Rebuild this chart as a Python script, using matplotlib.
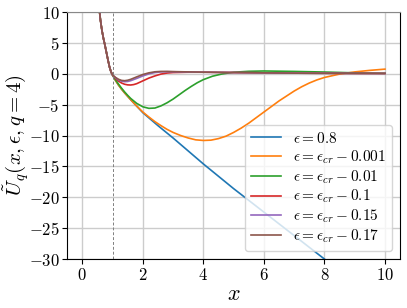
import matplotlib
matplotlib.use("Agg")
import matplotlib.pyplot as plt

plt.rcParams['mathtext.fontset'] = 'cm'
plt.rcParams['font.family'] = 'serif'
plt.rcParams['font.serif'] = ['cmr10', 'DejaVu Serif']
plt.rcParams['axes.formatter.use_mathtext'] = True

# shared steep part (x < 1)
x_common = [0.5, 0.55, 0.6, 0.65, 0.7, 0.75, 0.8, 0.85, 0.9, 0.95, 1.0]
y_common = [14.0, 11.0, 8.7, 7.0, 5.7, 4.6, 3.4, 2.2, 1.1, 0.3, -0.2]

x_blue = [1.1, 1.2, 1.3, 1.4, 1.5, 1.6, 1.8, 2.0, 2.5, 3.0, 3.5, 4.0, 5.0, 6.0, 7.0, 8.0, 9.0, 10.0]
y_blue = [-1.1, -1.85, -2.5, -3.1, -3.65, -4.2, -5.25, -6.3, -8.4, -10.4, -12.5, -14.6, -18.6, -22.4, -26.2, -30.0, -33.8, -37.6]

x_orange = [1.1, 1.2, 1.3, 1.4, 1.5, 1.6, 1.8, 2.0, 2.2, 2.4, 2.6, 2.8, 3.0, 3.25, 3.5, 3.75, 4.0, 4.25,
            4.5, 4.75, 5.0, 5.25, 5.5, 5.75, 6.0, 6.25, 6.5, 6.75, 7.0, 7.25, 7.5, 7.75, 8.0, 8.5, 9.0, 9.5, 10.0]
y_orange = [-1.1, -1.85, -2.5, -3.1, -3.65, -4.2, -5.25, -6.2, -7.0, -7.75, -8.4, -9.0, -9.5, -10.0, -10.4, -10.7, -10.8, -10.75,
            -10.5, -10.1, -9.5, -8.8, -8.0, -7.1, -6.2, -5.3, -4.4, -3.6, -2.8, -2.1, -1.5, -1.0, -0.6, -0.05, 0.3, 0.55, 0.75]

x_green = [1.1, 1.2, 1.3, 1.4, 1.5, 1.6, 1.8, 2.0, 2.2, 2.4, 2.6, 2.8, 3.0, 3.2, 3.4, 3.6, 3.8, 4.0, 4.3, 4.6,
           5.0, 5.5, 6.0, 7.0, 8.0, 9.0, 10.0]
y_green = [-1.0, -1.7, -2.35, -2.95, -3.5, -4.0, -4.8, -5.35, -5.6, -5.55, -5.2, -4.7, -4.1, -3.4, -2.7, -2.05, -1.45, -0.95, -0.4, -0.05,
           0.25, 0.4, 0.45, 0.38, 0.28, 0.15, 0.08]

x_red = [1.1, 1.2, 1.3, 1.4, 1.5, 1.6, 1.7, 1.8, 2.0, 2.2, 2.4, 2.6, 2.8, 3.0, 3.5, 4.0, 5.0, 6.0, 7.0, 8.0, 9.0, 10.0]
y_red = [-0.75, -1.2, -1.5, -1.7, -1.8, -1.82, -1.75, -1.6, -1.15, -0.7, -0.35, -0.05, 0.12, 0.2, 0.25, 0.25, 0.2, 0.15, 0.1, 0.08, 0.06, 0.05]

x_purple = [1.1, 1.2, 1.3, 1.4, 1.5, 1.6, 1.8, 2.0, 2.2, 2.4, 2.6, 2.8, 3.0, 3.5, 4.0, 5.0, 6.0, 7.0, 8.0, 9.0, 10.0]
y_purple = [-0.65, -1.0, -1.2, -1.28, -1.25, -1.12, -0.75, -0.35, -0.02, 0.2, 0.3, 0.33, 0.32, 0.28, 0.25, 0.2, 0.15, 0.1, 0.08, 0.06, 0.05]

x_brown = [1.1, 1.2, 1.3, 1.4, 1.5, 1.6, 1.8, 2.0, 2.2, 2.4, 2.6, 2.8, 3.0, 3.5, 4.0, 5.0, 6.0, 7.0, 8.0, 9.0, 10.0]
y_brown = [-0.6, -0.9, -1.08, -1.12, -1.05, -0.9, -0.5, -0.12, 0.15, 0.32, 0.38, 0.38, 0.35, 0.3, 0.26, 0.2, 0.15, 0.1, 0.08, 0.06, 0.05]

labels = [r'$\epsilon = 0.8$', r'$\epsilon = \epsilon_{cr} - 0.001$', r'$\epsilon = \epsilon_{cr} - 0.01$',
          r'$\epsilon = \epsilon_{cr} - 0.1$', r'$\epsilon = \epsilon_{cr} - 0.15$', r'$\epsilon = \epsilon_{cr} - 0.17$']
colors = ['#1f77b4', '#ff7f0e', '#2ca02c', '#d62728', '#9467bd', '#8c564b']

series = [(x_blue, y_blue), (x_orange, y_orange), (x_green, y_green),
          (x_red, y_red), (x_purple, y_purple), (x_brown, y_brown)]

fig = plt.figure(figsize=(4.07, 3.08), dpi=100)
ax = fig.add_axes([0.165, 0.159, 0.818, 0.802])

for (xs, ys), lab, c in zip(series, labels, colors):
    ax.plot(x_common + xs, y_common + ys, color=c, lw=1.2, label=lab)

ax.axvline(1.0, color='gray', lw=0.7, ls=(0, (3, 2)))

ax.set_xlim(-0.5, 10.5)
ax.set_ylim(-30, 10)
ax.set_xticks([0, 2, 4, 6, 8, 10])
ax.set_yticks([-30, -25, -20, -15, -10, -5, 0, 5, 10])
ax.grid(True, color='#cccccc', lw=1.0)
ax.tick_params(labelsize=12, pad=2)
ax.spines['top'].set_color('#888888')

ax.set_xlabel(r'$x$', fontsize=16, labelpad=1)
ax.set_ylabel(r'$\tilde{U}_q(x, \epsilon, q=4)$', fontsize=15)
ax.yaxis.set_label_coords(-0.108, 0.5)

ax.legend(loc='lower right', fontsize=11, framealpha=0.8, labelspacing=0.15)

fig.savefig('out.png', dpi=100)
